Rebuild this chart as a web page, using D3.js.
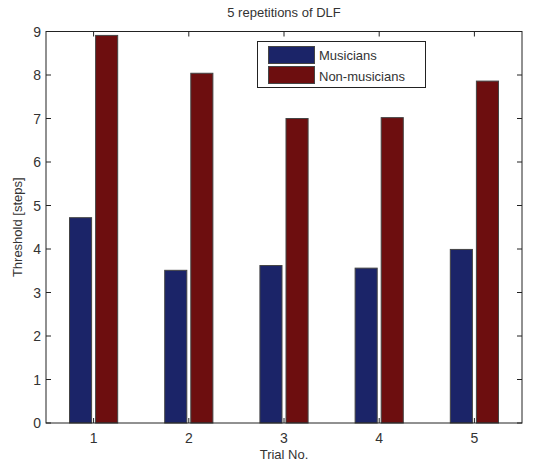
<!DOCTYPE html>
<html><head><meta charset="utf-8">
<script src="https://cdn.jsdelivr.net/npm/d3@7"></script>
<style>body{margin:0;background:#fff;}svg{display:block;font-family:"Liberation Sans",Arial,sans-serif;}</style>
</head><body><svg id="c" width="546" height="466"></svg>
<script>
const categories = [1, 2, 3, 4, 5];
const musicians = [4.72, 3.51, 3.62, 3.56, 3.99];
const nonMusicians = [8.91, 8.04, 7.0, 7.02, 7.86];
const seriesNames = ["Musicians", "Non-musicians"];
const colors = ["#1b2468", "#6d0e0f"];
const yTicks = [0,1,2,3,4,5,6,7,8,9];

const svg = d3.select("#c");
const L = 46, R = 522, T = 31.5, B = 423;
const x = d3.scaleLinear().domain([0.5, 5.5]).range([L, R]);
const y = d3.scaleLinear().domain([0, 9]).range([B, T]);
const bw = 0.232, off = 0.137;

svg.append("rect").attr("x",0).attr("y",0).attr("width",546).attr("height",466).attr("fill","#fff");

const series = [musicians, nonMusicians];
series.forEach((vals, si) => {
  svg.append("g").selectAll("rect").data(vals).join("rect")
    .attr("x", (d,i) => x(categories[i] + (si===0 ? -off : off) - bw/2))
    .attr("width", x(bw) - x(0))
    .attr("y", d => y(d))
    .attr("height", d => y(0) - y(d))
    .attr("fill", colors[si])
    .attr("stroke", "#444").attr("stroke-width", 1);
});

const ax = svg.append("g").attr("stroke","#000").attr("stroke-width",1).attr("fill","none");
ax.append("rect").attr("x",L).attr("y",T).attr("width",R-L).attr("height",B-T).attr("stroke","#222");

const tl = 5;
const g = svg.append("g");
g.selectAll(".xtb").data(categories).join("line")
  .attr("x1",d=>x(d)).attr("x2",d=>x(d)).attr("y1",B).attr("y2",B-tl).attr("stroke","#222");
g.selectAll(".xtt").data(categories).join("line")
  .attr("x1",d=>x(d)).attr("x2",d=>x(d)).attr("y1",T).attr("y2",T+tl).attr("stroke","#222");
g.selectAll(".ytl").data(yTicks).join("line")
  .attr("x1",L).attr("x2",L+tl).attr("y1",d=>y(d)).attr("y2",d=>y(d)).attr("stroke","#222");
g.selectAll(".ytr").data(yTicks).join("line")
  .attr("x1",R).attr("x2",R-tl).attr("y1",d=>y(d)).attr("y2",d=>y(d)).attr("stroke","#222");

g.selectAll(".xl").data(categories).join("text")
  .attr("x",d=>x(d)).attr("y",B+20).attr("text-anchor","middle")
  .attr("font-size",14).attr("fill","#333").text(d=>d);
g.selectAll(".yl").data(yTicks).join("text")
  .attr("x",L-5).attr("y",d=>y(d)+5).attr("text-anchor","end")
  .attr("font-size",14).attr("fill","#333").text(d=>d);

svg.append("text").attr("x",(L+R)/2).attr("y",17).attr("text-anchor","middle")
  .attr("font-size",13).attr("fill","#333").text("5 repetitions of DLF");
svg.append("text").attr("x",(L+R)/2).attr("y",459).attr("text-anchor","middle")
  .attr("font-size",13).attr("fill","#333").text("Trial No.");
svg.append("text").attr("transform",`translate(22,${(T+B)/2}) rotate(-90)`).attr("text-anchor","middle")
  .attr("font-size",13).attr("fill","#333").text("Threshold [steps]");

const lg = svg.append("g");
lg.append("rect").attr("x",257.5).attr("y",41.5).attr("width",168).attr("height",46)
  .attr("fill","#fff").attr("stroke","#222");
seriesNames.forEach((n,i)=>{
  lg.append("rect").attr("x",268.5).attr("y",46.5+i*20).attr("width",46).attr("height",17)
    .attr("fill",colors[i]).attr("stroke","#444");
  lg.append("text").attr("x",319).attr("y",60+i*20.5).attr("font-size",13).attr("fill","#333").text(n);
});
</script></body></html>
